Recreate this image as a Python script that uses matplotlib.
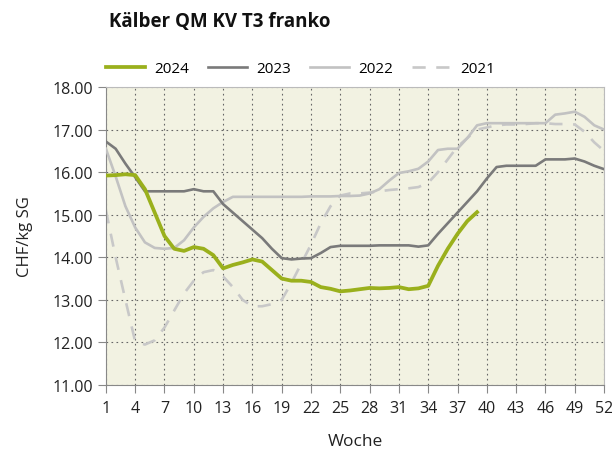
import matplotlib.pyplot as plt
import numpy as np

plt.rcParams['font.family'] = ['Open Sans', 'DejaVu Sans']

# Wochen 1..52
weeks = np.arange(1, 53)

# Preise CHF/kg SG
y2024 = [15.92, 15.93, 15.95, 15.93, 15.6, 15.05, 14.5, 14.2, 14.15, 14.24,
         14.2, 14.05, 13.74, 13.82, 13.88, 13.95, 13.9, 13.7, 13.5, 13.45,
         13.45, 13.42, 13.3, 13.26, 13.2, 13.22, 13.25, 13.28, 13.27, 13.28,
         13.3, 13.25, 13.27, 13.33, 13.8, 14.2, 14.55, 14.85, 15.06]

y2023 = [16.72, 16.55, 16.2, 15.88, 15.55, 15.55, 15.55, 15.55, 15.55, 15.6,
         15.55, 15.55, 15.25, 15.05, 14.85, 14.65, 14.45, 14.2, 13.98, 13.95,
         13.97, 13.98, 14.1, 14.24, 14.27, 14.27, 14.27, 14.27, 14.28, 14.28,
         14.28, 14.28, 14.25, 14.28, 14.55, 14.8, 15.05, 15.3, 15.55, 15.85,
         16.12, 16.15, 16.15, 16.15, 16.15, 16.3, 16.3, 16.3, 16.32, 16.25,
         16.15, 16.07]

y2022 = [16.55, 15.9, 15.2, 14.7, 14.35, 14.22, 14.2, 14.22, 14.4, 14.7,
         14.95, 15.15, 15.3, 15.42, 15.42, 15.42, 15.42, 15.42, 15.42, 15.42,
         15.42, 15.43, 15.43, 15.43, 15.44, 15.44, 15.45, 15.5, 15.6, 15.8,
         15.98, 16.02, 16.08, 16.25, 16.52, 16.55, 16.55, 16.8, 17.1, 17.15,
         17.15, 17.15, 17.15, 17.15, 17.15, 17.15, 17.35, 17.38, 17.42, 17.3,
         17.1, 17.0]

y2021 = [15.1, 14.0, 13.0, 12.02, 11.95, 12.05, 12.35, 12.75, 13.15, 13.45,
         13.65, 13.7, 13.55, 13.3, 13.0, 12.85, 12.85, 12.9, 13.0, 13.4,
         13.85, 14.3, 14.8, 15.2, 15.45, 15.5, 15.5, 15.52, 15.55, 15.58,
         15.6, 15.62, 15.65, 15.75, 16.0, 16.3, 16.6, 16.8, 17.0, 17.05,
         17.1, 17.12, 17.12, 17.13, 17.15, 17.15, 17.13, 17.13, 17.12, 16.95,
         16.7, 16.5]

fig = plt.figure(figsize=(6.12, 4.56), dpi=100)
ax = fig.add_axes([0.173, 0.1535, 0.814, 0.6535])
ax.set_facecolor('#F2F2E2')

ax.plot(weeks[:len(y2024)], y2024, color='#9AB01C', lw=2.7, label='2024', zorder=5)
ax.plot(weeks, y2023, color='#7A7A7A', lw=1.9, label='2023', zorder=4)
ax.plot(weeks, y2022, color='#C2C2C2', lw=1.9, label='2022', zorder=3)
ax.plot(weeks, y2021, color='#C8C8C8', lw=1.9, ls=(0, (5, 4)), label='2021', zorder=2)

ax.set_xlim(1, 52)
ax.set_ylim(11, 18)
ax.set_xticks(np.arange(1, 53, 3))
ax.set_yticks(np.arange(11, 18.5, 1))
ax.set_yticklabels(['%.2f' % v for v in np.arange(11, 18.5, 1)])
ax.grid(True, color='#666666', ls=(0, (1.5, 3)), lw=0.8)
ax.tick_params(direction='out', length=6, color='#888888', labelsize=11.5, labelcolor='#222222')
ax.tick_params(axis='x', pad=5)

for s in ['left', 'bottom']:
    ax.spines[s].set_color('#888888')
for s in ['top', 'right']:
    ax.spines[s].set_color('#BBBBBB')

ax.set_xlabel('Woche', fontsize=12.5, color='#222222', labelpad=12)
ax.set_ylabel('CHF/kg SG', fontsize=12, color='#222222', labelpad=14)

fig.text(0.178, 0.952, 'Kälber QM KV T3 franko', fontsize=13.5, fontweight='bold', color='#111111', va='center')

ax.legend(loc='lower left', bbox_to_anchor=(-0.028, 0.99), ncol=4, frameon=False,
          fontsize=11, handlelength=2.6, columnspacing=1.2, handletextpad=0.6)

fig.savefig('out.png', dpi=100)
